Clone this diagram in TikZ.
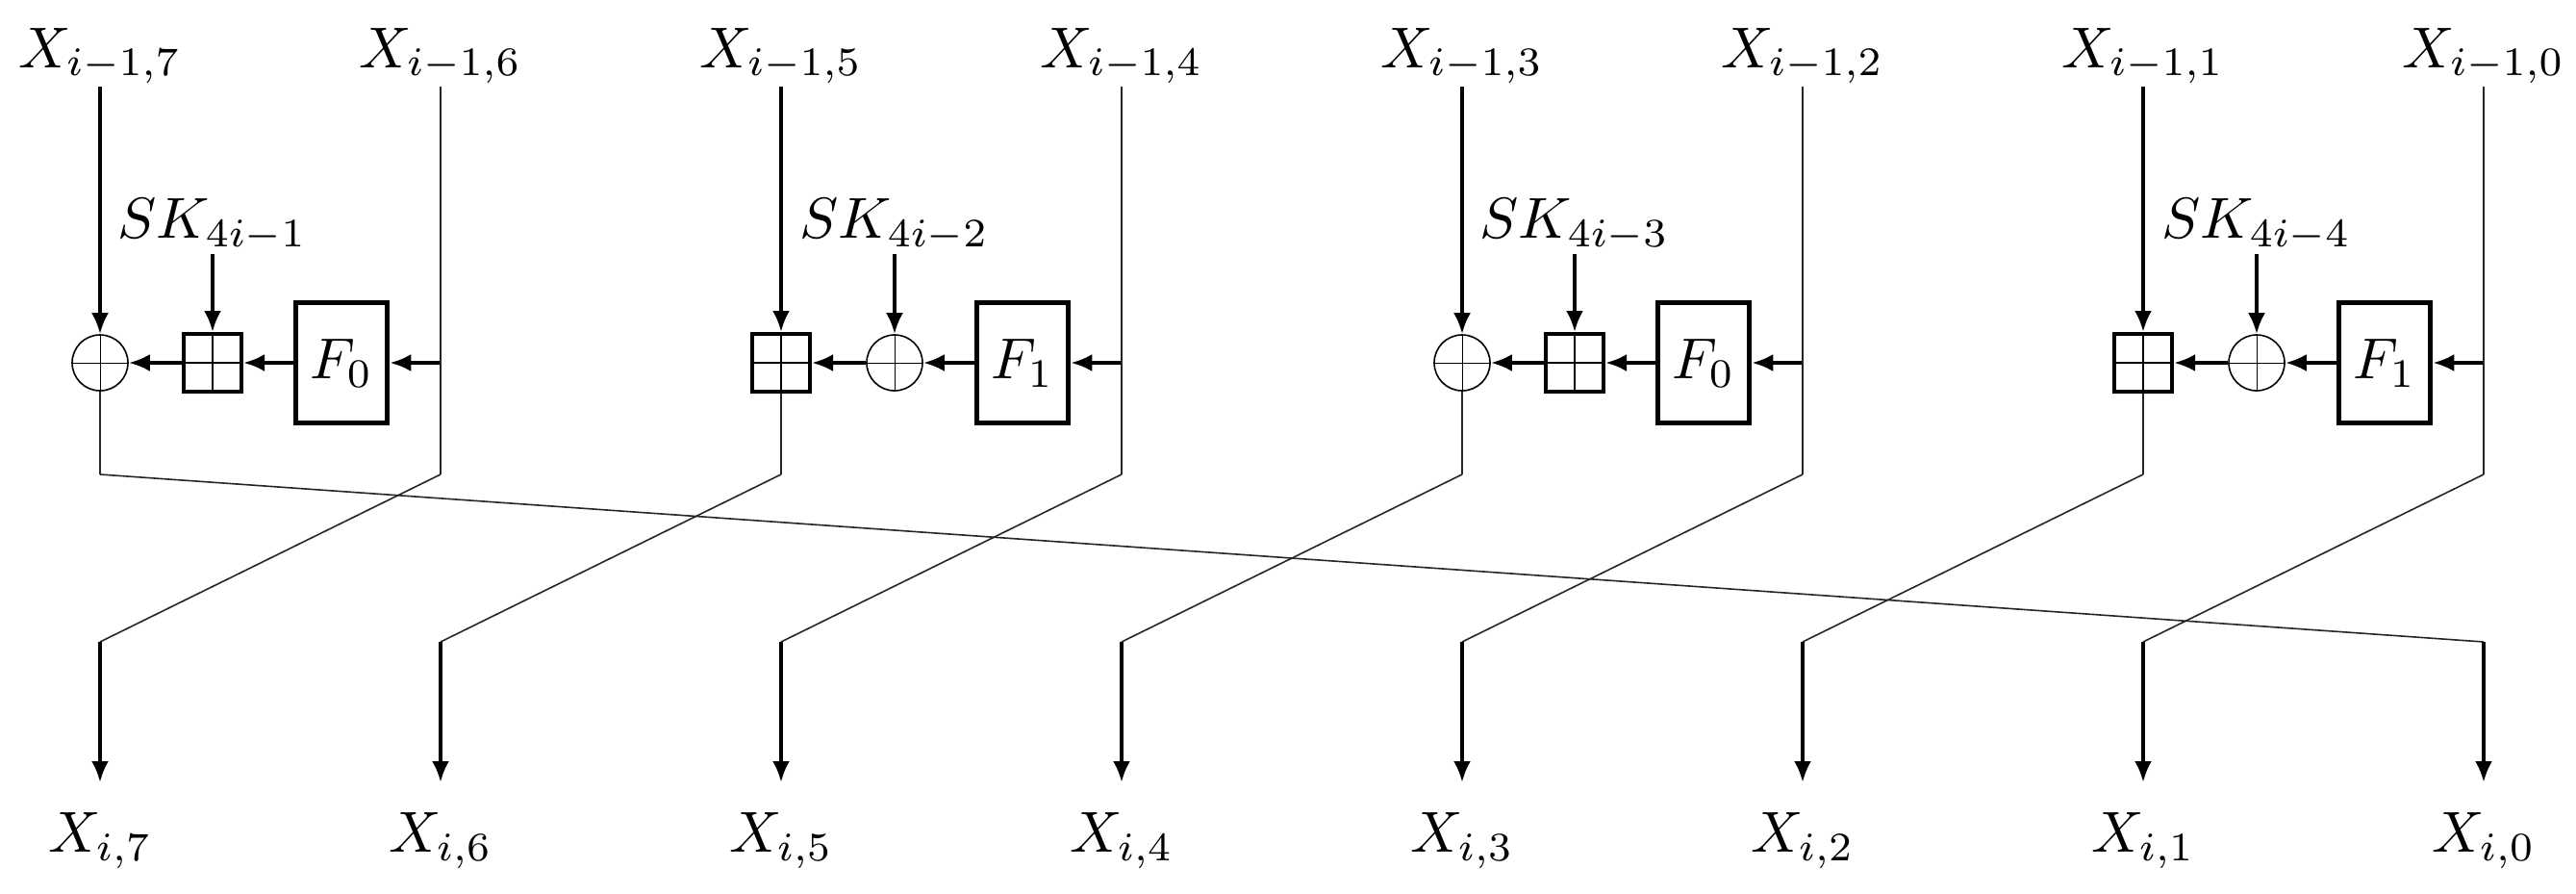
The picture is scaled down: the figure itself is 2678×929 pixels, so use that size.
\documentclass[tikz,border=0pt]{standalone}
\usetikzlibrary{arrows.meta,calc}
\newcommand{\bigt}[1]{\scalebox{6}{$#1$}}
\begin{document}
\begin{tikzpicture}[x=1pt,y=-1pt,
  lab/.style={inner sep=3pt,anchor=base},
  thk/.style={line width=4pt,-{Latex[length=22pt,width=18pt]}},
  thn/.style={line width=1.6pt,black!85},
  xorn/.style={circle,draw,line width=1.6pt,minimum size=58pt,inner sep=0pt},
  addn/.style={rectangle,draw,line width=4pt,minimum size=60pt,inner sep=0pt},
  fn/.style={rectangle,draw,line width=5.5pt,minimum width=95pt,minimum height=125pt,inner sep=0pt}]
\useasboundingbox (0,0) rectangle (2678,929);
\foreach \c in {0,...,7}{
  \pgfmathsetmacro\x{104+354*\c}
  \pgfmathtruncatemacro\n{7-\c}
  \node[lab] (in\c) at (\x,70) {\bigt{X_{i-1,\n}}};
  \node[lab] (out\c) at (\x,885) {\bigt{X_{i,\n}}};
  \coordinate (k\c) at (\x,493);
  \coordinate (e\c) at (\x,667);
  \coordinate (o\c) at (\x,813);
}
\foreach \b in {0,...,3}{
  \pgfmathsetmacro\L{104+708*\b}
  \pgfmathsetmacro\R{\L+354}
  \pgfmathtruncatemacro\k{\b+1}
  \pgfmathtruncatemacro\lc{2*\b}
  \pgfmathtruncatemacro\rc{2*\b+1}
  \ifodd\b
    \node[addn] (A\b) at (\L,377) {};
    \node[xorn] (B\b) at (\L+118,377) {};
    \node[fn] (F\b) at (\L+251,377) {\bigt{F_1}};
    \draw[line width=1.6pt] (A\b.north) -- (A\b.south) (A\b.west) -- (A\b.east);
    \draw[line width=1pt] (B\b.north) -- (B\b.south) (B\b.west) -- (B\b.east);
  \else
    \node[xorn] (A\b) at (\L,377) {};
    \node[addn] (B\b) at (\L+117,377) {};
    \node[fn] (F\b) at (\L+251,377) {\bigt{F_0}};
    \draw[line width=1pt] (A\b.north) -- (A\b.south) (A\b.west) -- (A\b.east);
    \draw[line width=1.6pt] (B\b.north) -- (B\b.south) (B\b.west) -- (B\b.east);
  \fi
  \node[lab] (sk\b) at ($(B\b)+(0,-130)$) {\bigt{SK_{4i-\k}}};
  \coordinate (j\b) at (\R,377);
  \draw[thk] (in\lc.south) -- (A\b.north);
  \draw[thk] (sk\b.south) -- (B\b.north);
  \draw[thk] (j\b) -- (F\b.east);
  \draw[thk] (F\b.west) -- (B\b.east);
  \draw[thk] (B\b.west) -- (A\b.east);
  \draw[thn] (A\b.south) -- (k\lc);
  \draw[thn] (in\rc.south) -- (k\rc);
}
\draw[thn] (k0) -- (e7);
\foreach \c [evaluate=\c as \p using int(\c-1)] in {1,...,7}{
  \draw[thn] (k\c) -- (e\p);
}
\foreach \c in {0,...,7}{
  \draw[thk] (e\c) -- (o\c);
}
\end{tikzpicture}
\end{document}
